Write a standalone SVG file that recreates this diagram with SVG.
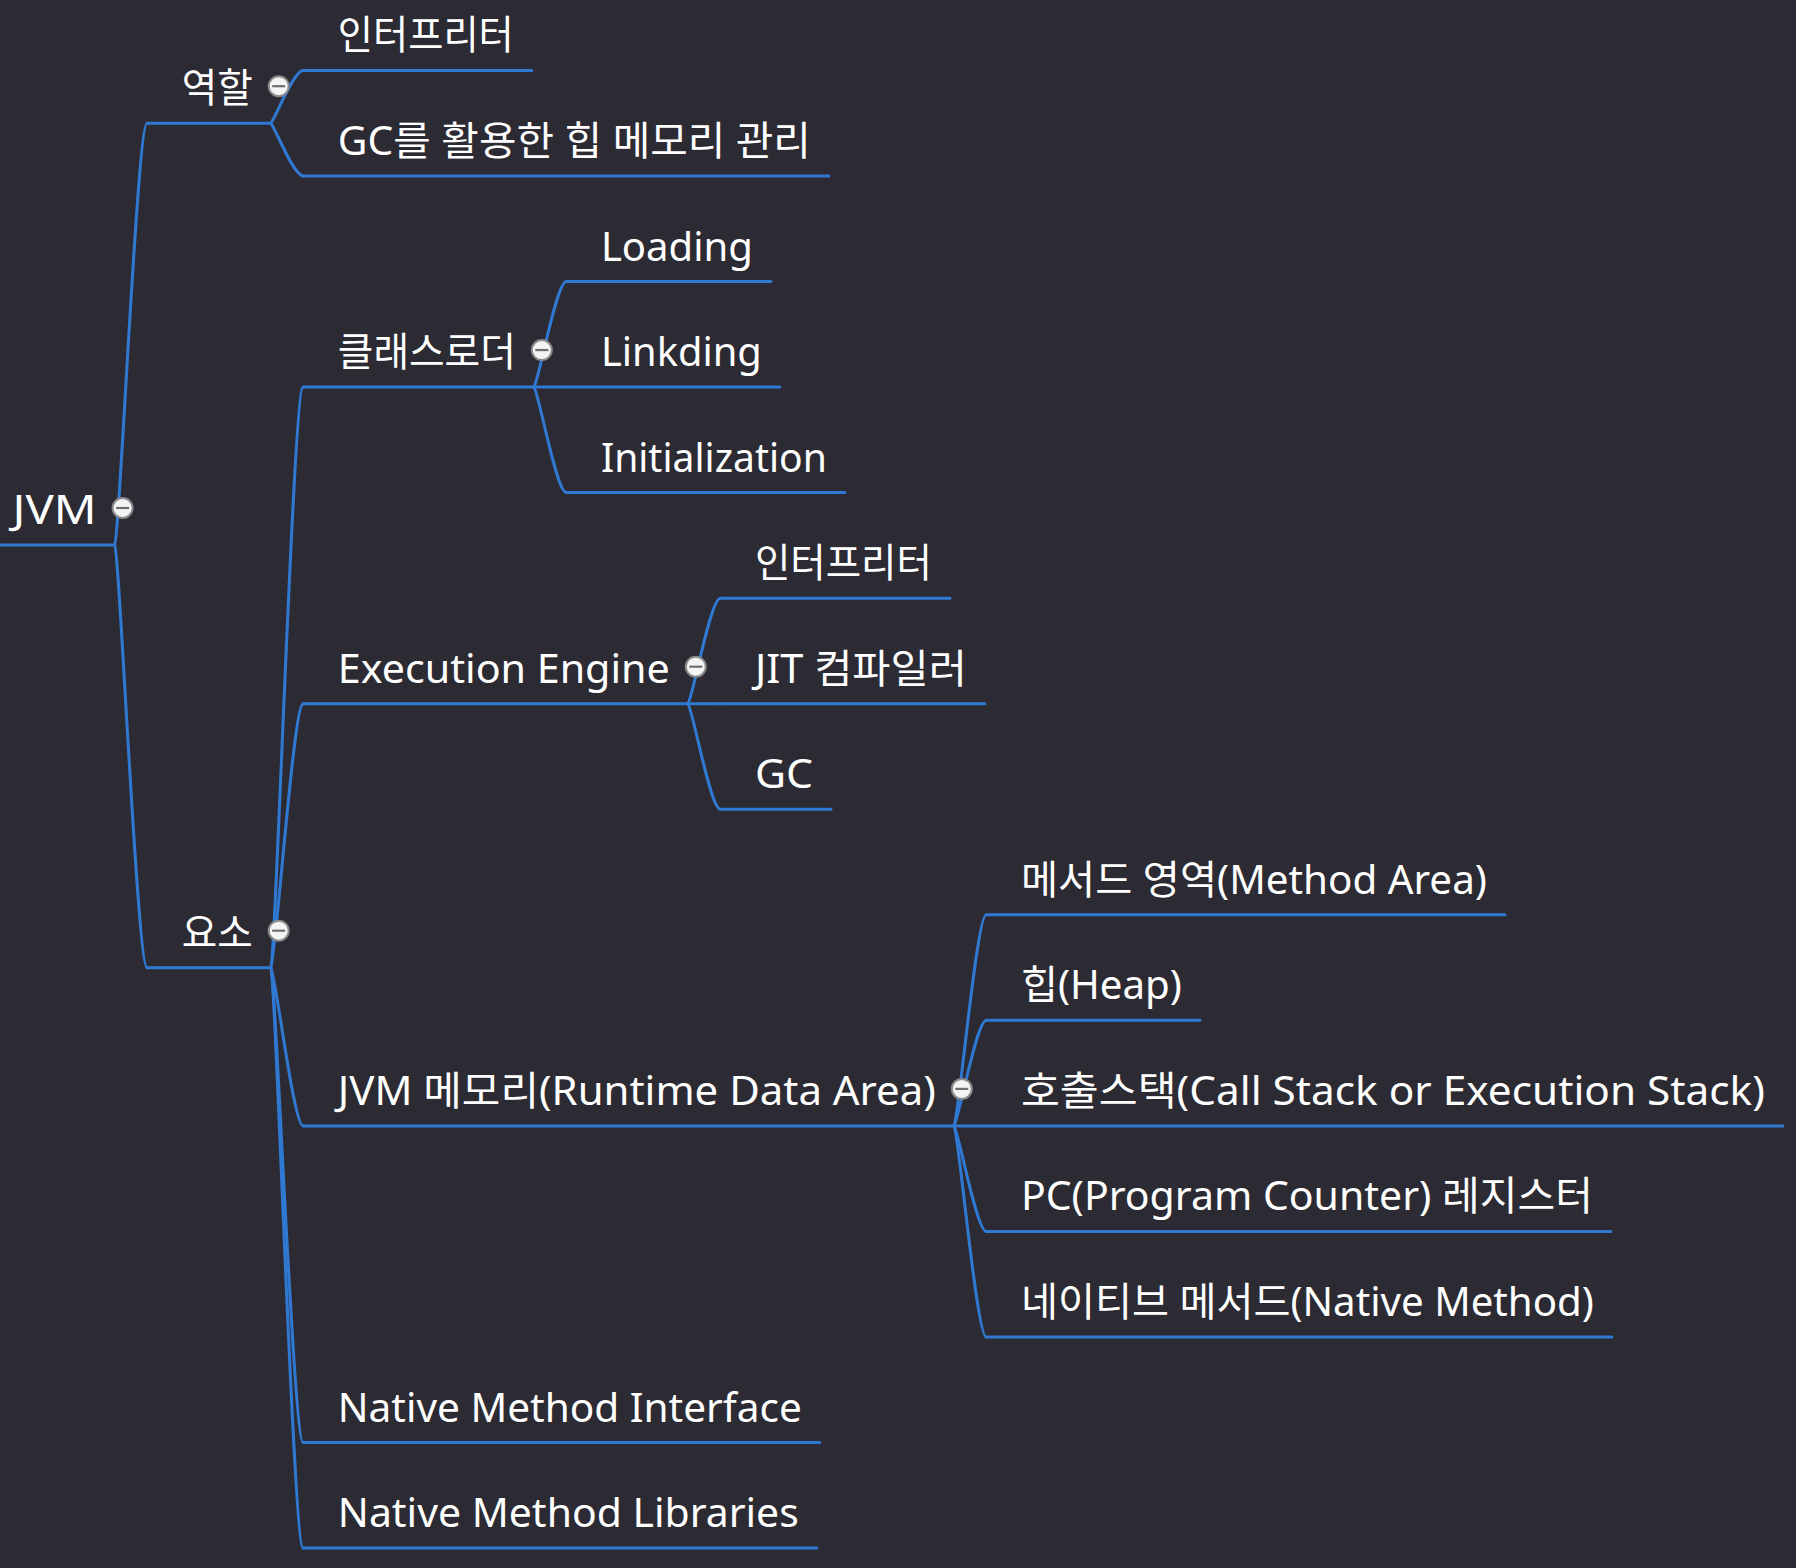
<svg xmlns="http://www.w3.org/2000/svg" width="1796" height="1568" viewBox="0 0 1796 1568">
<style>
.t{font-family:"Noto Sans","Noto Sans CJK KR",sans-serif;font-size:40px;fill:#ffffff}
.u{stroke:#3079d2;stroke-width:3;fill:none;stroke-linecap:round}
.c{stroke:#3079d2;stroke-width:3;fill:none;stroke-linecap:round}
.k{fill:#f4f4f4;stroke:#8a8a8a;stroke-width:2}
.m{stroke:#6e6e6e;stroke-width:2.2}
</style>
<defs>
<g id="collapse"><circle class="k" cx="0" cy="0" r="10"/><line class="m" x1="-6.5" y1="0" x2="6.5" y2="0"/></g>
</defs>
<rect width="1796" height="1568" fill="#2c2b34"/>
<g id="connectors">
<path class="c" d="M114.6,545 C119.6,540 137.1,123.2 147.1,123.2"/>
<path class="c" d="M114.6,545 C119.6,550 137.1,967.7 147.1,967.7"/>
<path class="c" d="M270.7,123.2 C275.7,118.2 293.2,70.4 303.2,70.4"/>
<path class="c" d="M270.7,123.2 C275.7,128.2 293.2,175.95 303.2,175.95"/>
<path class="c" d="M270.7,967.7 C275.7,962.7 293.2,387.05 303.2,387.05"/>
<path class="c" d="M270.7,967.7 C275.7,962.7 293.2,703.7 303.2,703.7"/>
<path class="c" d="M270.7,967.7 C275.7,972.7 293.2,1125.9 303.2,1125.9"/>
<path class="c" d="M270.7,967.7 C275.7,972.7 293.2,1442.55 303.2,1442.55"/>
<path class="c" d="M270.7,967.7 C275.7,972.7 293.2,1548.1 303.2,1548.1"/>
<path class="c" d="M533.8,387.05 C538.8,382.05 556.3,281.5 566.3,281.5"/>
<path class="c" d="M533.8,387.05 L566.3,387.05"/>
<path class="c" d="M533.8,387.05 C538.8,392.05 556.3,492.6 566.3,492.6"/>
<path class="c" d="M687.8,703.7 C692.8,698.7 710.3,598.15 720.3,598.15"/>
<path class="c" d="M687.8,703.7 L720.3,703.7"/>
<path class="c" d="M687.8,703.7 C692.8,708.7 710.3,809.25 720.3,809.25"/>
<path class="c" d="M953.8,1125.9 C958.8,1120.9 976.3,914.8 986.3,914.8"/>
<path class="c" d="M953.8,1125.9 C958.8,1120.9 976.3,1020.35 986.3,1020.35"/>
<path class="c" d="M953.8,1125.9 L986.3,1125.9"/>
<path class="c" d="M953.8,1125.9 C958.8,1130.9 976.3,1231.45 986.3,1231.45"/>
<path class="c" d="M953.8,1125.9 C958.8,1130.9 976.3,1337 986.3,1337"/>
</g>
<g id="n-jvm">
<line class="u" x1="0" y1="545" x2="114.6" y2="545"/>
<text class="t" x="12.6" y="524" textLength="84" lengthAdjust="spacingAndGlyphs">JVM</text>
<use href="#collapse" x="122.6" y="508"/>
</g>
<g id="n-role">
<line class="u" x1="147.1" y1="123.2" x2="270.7" y2="123.2"/>
<text class="t" x="181.7" y="102.2" textLength="71" lengthAdjust="spacingAndGlyphs">역할</text>
<use href="#collapse" x="278.7" y="86.2"/>
</g>
<g id="n-interp1">
<line class="u" x1="303.2" y1="70.4" x2="531.8" y2="70.4"/>
<text class="t" x="337.8" y="49.4" textLength="176" lengthAdjust="spacingAndGlyphs">인터프리터</text>
</g>
<g id="n-gcheap">
<line class="u" x1="303.2" y1="175.95" x2="828.8" y2="175.95"/>
<text class="t" x="337.8" y="154.95" textLength="473" lengthAdjust="spacingAndGlyphs">GC를 활용한 힙 메모리 관리</text>
</g>
<g id="n-comp">
<line class="u" x1="147.1" y1="967.7" x2="270.7" y2="967.7"/>
<text class="t" x="181.7" y="946.7" textLength="71" lengthAdjust="spacingAndGlyphs">요소</text>
<use href="#collapse" x="278.7" y="930.7"/>
</g>
<g id="n-classloader">
<line class="u" x1="303.2" y1="387.05" x2="533.8" y2="387.05"/>
<text class="t" x="337.8" y="366.05" textLength="178" lengthAdjust="spacingAndGlyphs">클래스로더</text>
<use href="#collapse" x="541.8" y="350.05"/>
</g>
<g id="n-loading">
<line class="u" x1="566.3" y1="281.5" x2="770.9" y2="281.5"/>
<text class="t" x="600.9" y="260.5" textLength="152" lengthAdjust="spacingAndGlyphs">Loading</text>
</g>
<g id="n-linking">
<line class="u" x1="566.3" y1="387.05" x2="779.9" y2="387.05"/>
<text class="t" x="600.9" y="366.05" textLength="161" lengthAdjust="spacingAndGlyphs">Linkding</text>
</g>
<g id="n-init">
<line class="u" x1="566.3" y1="492.6" x2="844.9" y2="492.6"/>
<text class="t" x="600.9" y="471.6" textLength="226" lengthAdjust="spacingAndGlyphs">Initialization</text>
</g>
<g id="n-exec">
<line class="u" x1="303.2" y1="703.7" x2="687.8" y2="703.7"/>
<text class="t" x="337.8" y="682.7" textLength="332" lengthAdjust="spacingAndGlyphs">Execution Engine</text>
<use href="#collapse" x="695.8" y="666.7"/>
</g>
<g id="n-interp2">
<line class="u" x1="720.3" y1="598.15" x2="949.9" y2="598.15"/>
<text class="t" x="754.9" y="577.15" textLength="177" lengthAdjust="spacingAndGlyphs">인터프리터</text>
</g>
<g id="n-jit">
<line class="u" x1="720.3" y1="703.7" x2="984.9" y2="703.7"/>
<text class="t" x="754.9" y="682.7" textLength="212" lengthAdjust="spacingAndGlyphs">JIT 컴파일러</text>
</g>
<g id="n-gc">
<line class="u" x1="720.3" y1="809.25" x2="830.9" y2="809.25"/>
<text class="t" x="754.9" y="788.25" textLength="58" lengthAdjust="spacingAndGlyphs">GC</text>
</g>
<g id="n-mem">
<line class="u" x1="303.2" y1="1125.9" x2="953.8" y2="1125.9"/>
<text class="t" x="337.8" y="1104.9" textLength="598" lengthAdjust="spacingAndGlyphs">JVM 메모리(Runtime Data Area)</text>
<use href="#collapse" x="961.8" y="1088.9"/>
</g>
<g id="n-method">
<line class="u" x1="986.3" y1="914.8" x2="1504.9" y2="914.8"/>
<text class="t" x="1020.9" y="893.8" textLength="466" lengthAdjust="spacingAndGlyphs">메서드 영역(Method Area)</text>
</g>
<g id="n-heap">
<line class="u" x1="986.3" y1="1020.35" x2="1199.9" y2="1020.35"/>
<text class="t" x="1020.9" y="999.35" textLength="161" lengthAdjust="spacingAndGlyphs">힙(Heap)</text>
</g>
<g id="n-stack">
<line class="u" x1="986.3" y1="1125.9" x2="1782.9" y2="1125.9"/>
<text class="t" x="1020.9" y="1104.9" textLength="744" lengthAdjust="spacingAndGlyphs">호출스택(Call Stack or Execution Stack)</text>
</g>
<g id="n-pc">
<line class="u" x1="986.3" y1="1231.45" x2="1610.9" y2="1231.45"/>
<text class="t" x="1020.9" y="1210.45" textLength="572" lengthAdjust="spacingAndGlyphs">PC(Program Counter) 레지스터</text>
</g>
<g id="n-native">
<line class="u" x1="986.3" y1="1337" x2="1611.9" y2="1337"/>
<text class="t" x="1020.9" y="1316" textLength="573" lengthAdjust="spacingAndGlyphs">네이티브 메서드(Native Method)</text>
</g>
<g id="n-nmi">
<line class="u" x1="303.2" y1="1442.55" x2="819.8" y2="1442.55"/>
<text class="t" x="337.8" y="1421.55" textLength="464" lengthAdjust="spacingAndGlyphs">Native Method Interface</text>
</g>
<g id="n-nml">
<line class="u" x1="303.2" y1="1548.1" x2="816.8" y2="1548.1"/>
<text class="t" x="337.8" y="1527.1" textLength="461" lengthAdjust="spacingAndGlyphs">Native Method Libraries</text>
</g>
</svg>
